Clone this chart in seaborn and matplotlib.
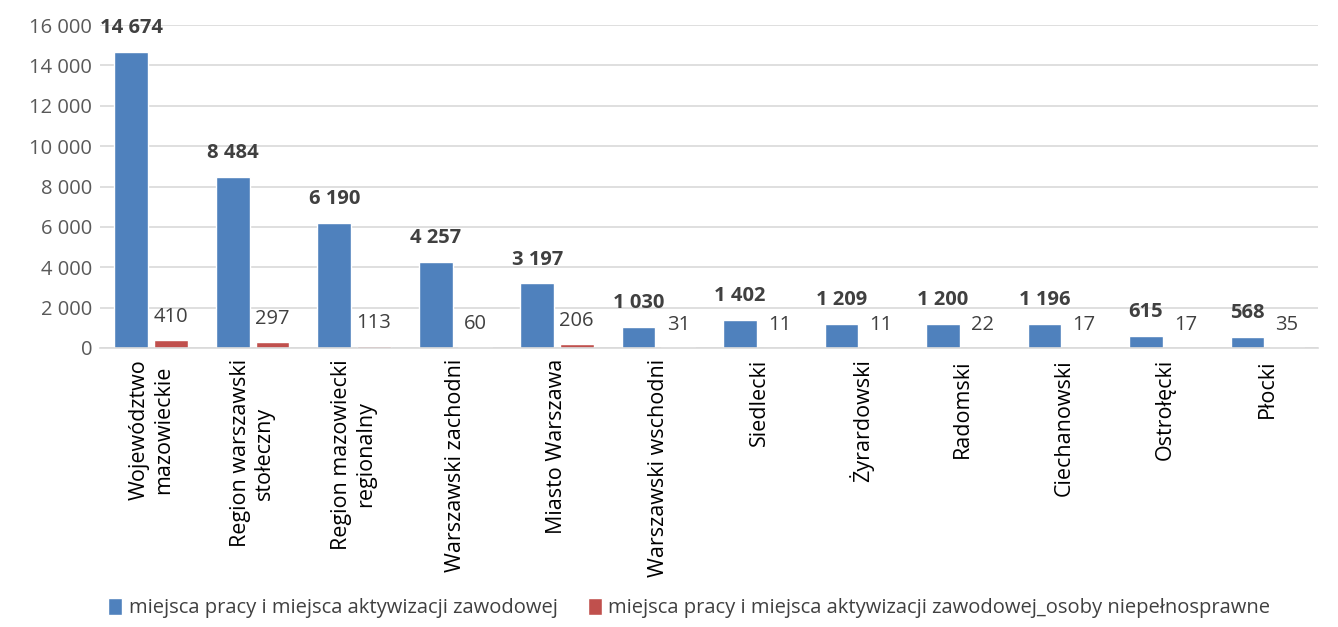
import pandas as pd
import seaborn as sns
import matplotlib.pyplot as plt
from matplotlib.ticker import FuncFormatter

# dane
kategorie = ['Województwo\nmazowieckie', 'Region warszawski\nstołeczny', 'Region mazowiecki\nregionalny',
             'Warszawski zachodni', 'Miasto Warszawa', 'Warszawski wschodni', 'Siedlecki',
             'Żyrardowski', 'Radomski', 'Ciechanowski', 'Ostrołęcki', 'Płocki']
ogolem = [14674, 8484, 6190, 4257, 3197, 1030, 1402, 1209, 1200, 1196, 615, 568]
niepelnosprawni = [410, 297, 113, 60, 206, 31, 11, 11, 22, 17, 17, 35]
serie = ['miejsca pracy i miejsca aktywizacji zawodowej',
         'miejsca pracy i miejsca aktywizacji zawodowej_osoby niepełnosprawne']

df = pd.DataFrame({
    'kategoria': kategorie * 2,
    'wartosc': ogolem + niepelnosprawni,
    'seria': [serie[0]] * len(kategorie) + [serie[1]] * len(kategorie),
})

sns.set_style('white')
plt.rcParams['font.family'] = ['Open Sans', 'DejaVu Sans']

fig = plt.figure(figsize=(13.38, 6.27), dpi=100)
ax = fig.add_axes([0.075, 0.445, 0.91, 0.515])

sns.barplot(data=df, x='kategoria', y='wartosc', hue='seria', order=kategorie,
            palette=['#4F81BD', '#C0504D'], width=0.78, gap=0.15, ax=ax,
            saturation=1, legend=True)

ax.set_ylim(0, 16000)
ax.set_yticks(range(0, 16001, 2000))
ax.yaxis.set_major_formatter(FuncFormatter(lambda v, p: f'{int(v):,}'.replace(',', ' ')))
ax.grid(axis='y', color='#d9d9d9', linewidth=1.2)
ax.set_axisbelow(True)
for s in ['left', 'right', 'top']:
    ax.spines[s].set_visible(False)
ax.spines['bottom'].set_color('#d9d9d9')
ax.spines['bottom'].set_linewidth(1.2)
ax.tick_params(axis='y', length=0, labelsize=14.5, colors='#595959', pad=6)
ax.tick_params(axis='x', length=0, labelsize=15.5, colors='black', pad=8)
ax.set_xlim(-0.5, len(kategorie) - 0.5)
ax.set_xlabel('')
ax.set_ylabel('')
plt.setp(ax.get_xticklabels(), rotation=90, ha='center', va='top', multialignment='center')

# etykiety danych
for i, cont in enumerate(ax.containers):
    for bar, v in zip(cont, [ogolem, niepelnosprawni][i]):
        x = bar.get_x() + bar.get_width() / 2
        ax.annotate(f'{v:,}'.replace(',', ' '), (x, bar.get_height()),
                    xytext=(0, 10 if i == 0 else 9), textcoords='offset points',
                    ha='center', va='bottom', fontsize=14.5, color='#404040',
                    fontweight='bold' if i == 0 else 'normal')

ax.legend(loc='center', ncol=2, frameon=False, fontsize=14.5, handlelength=0.7,
          handleheight=0.9, handletextpad=0.3, columnspacing=1.5, labelcolor='#404040')
leg = ax.get_legend()
leg.set_bbox_to_anchor((0.515, 0.03), transform=fig.transFigure)

fig.savefig('out.png', dpi=100)
